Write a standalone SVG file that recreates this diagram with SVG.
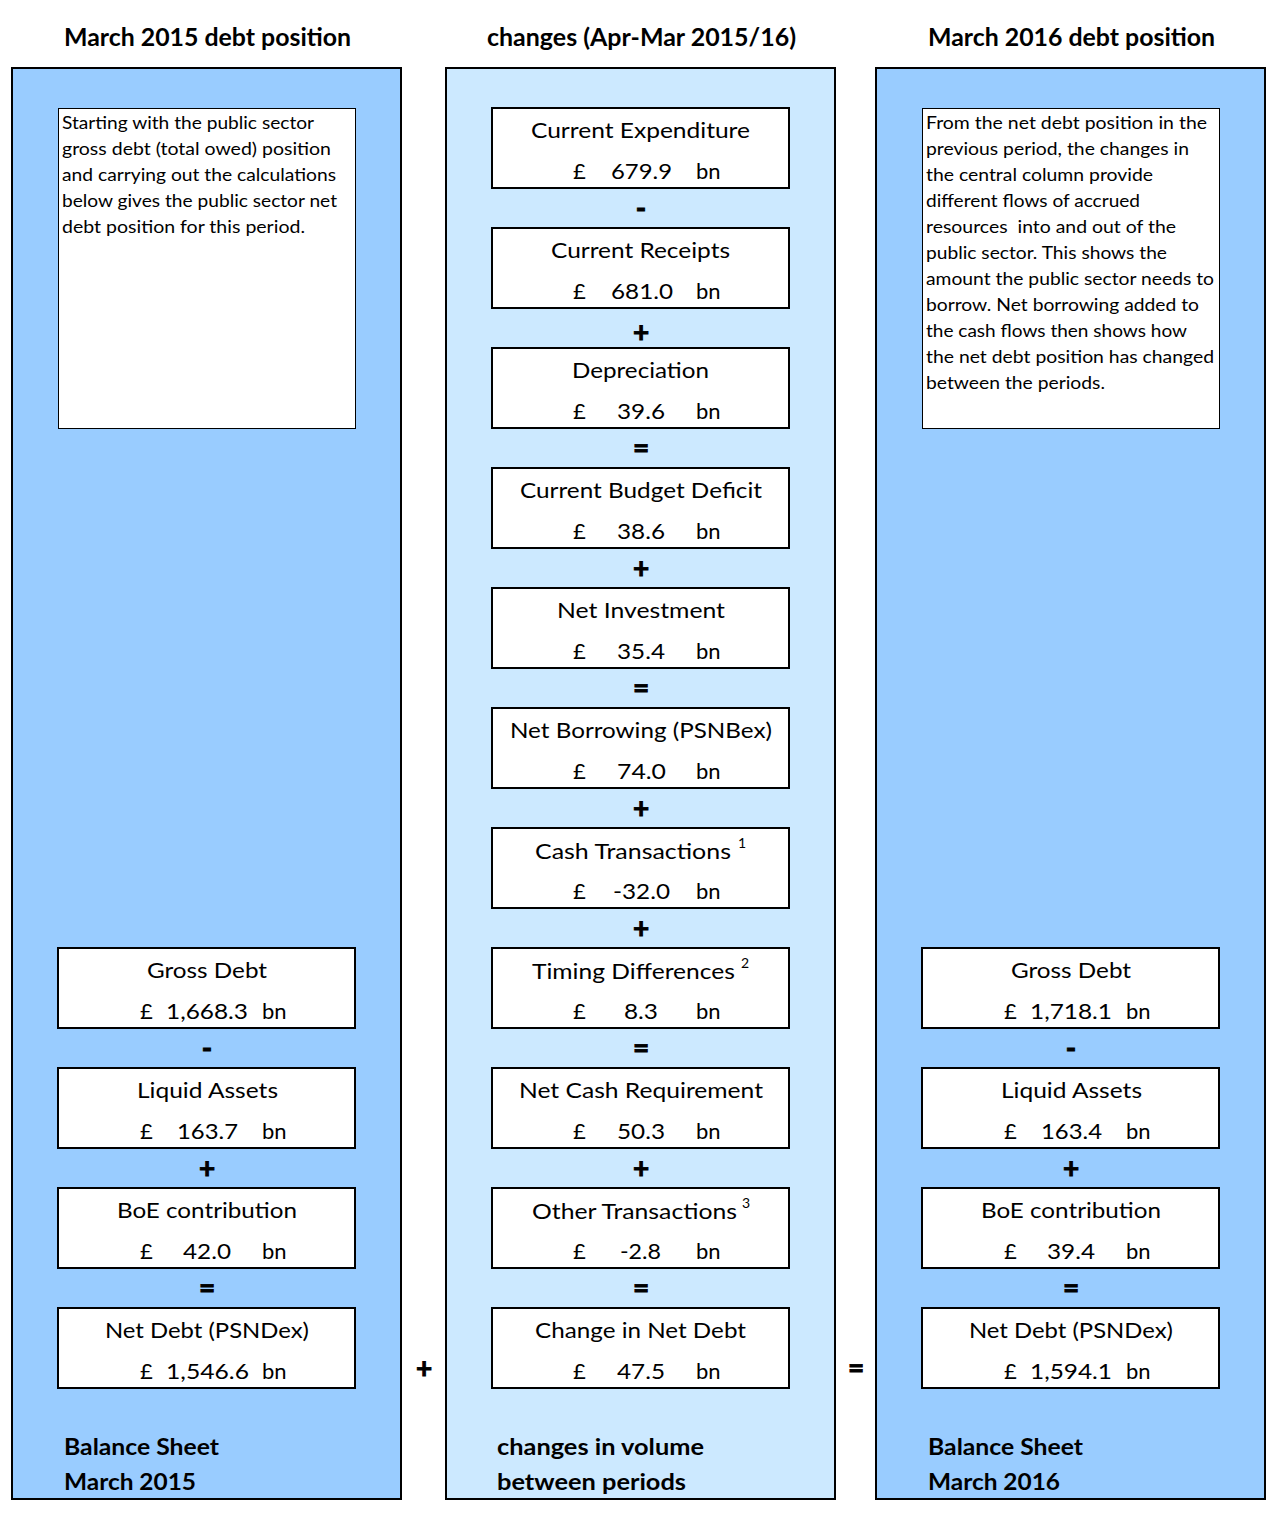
<svg xmlns="http://www.w3.org/2000/svg" width="1279" height="1535" viewBox="0 0 1279 1535">
<style>
.t{font-family:Lato,"Liberation Sans",sans-serif;font-size:22px;fill:#000}
.c{text-anchor:middle}
.h{font-weight:bold;font-size:24px}
.b{font-weight:bold;font-size:23px}
.d{font-size:18px}
.op{font-weight:bold;font-size:28px;text-anchor:middle;stroke:#000;stroke-width:0.9}
.sup{font-size:14px}
.col{stroke:#000;stroke-width:2}
.box{fill:#fff;stroke:#000;stroke-width:2}
.note{fill:#fff;stroke:#000;stroke-width:1}
</style>
<rect width="1279" height="1535" fill="#fff"/>

<g id="headers">
<text class="t h c" x="207.5" y="46" textLength="287" lengthAdjust="spacingAndGlyphs">March 2015 debt position</text>
<text class="t h c" x="641.5" y="46" textLength="309" lengthAdjust="spacingAndGlyphs">changes (Apr-Mar 2015/16)</text>
<text class="t h c" x="1071.5" y="46" textLength="287" lengthAdjust="spacingAndGlyphs">March 2016 debt position</text>
</g>

<g id="col-left">
<rect class="col" x="12" y="68" width="389" height="1431" fill="#99CCFF"/>
<text class="t b" x="64" y="1455" textLength="155" lengthAdjust="spacingAndGlyphs">Balance Sheet</text>
<text class="t b" x="64" y="1490" textLength="132" lengthAdjust="spacingAndGlyphs">March 2015</text>
</g>
<g id="col-mid">
<rect class="col" x="446" y="68" width="389" height="1431" fill="#CCE9FF"/>
<text class="t b" x="497" y="1455" textLength="207" lengthAdjust="spacingAndGlyphs">changes in volume</text>
<text class="t b" x="497" y="1490" textLength="189" lengthAdjust="spacingAndGlyphs">between periods</text>
</g>
<g id="col-right">
<rect class="col" x="876" y="68" width="389" height="1431" fill="#99CCFF"/>
<text class="t b" x="928" y="1455" textLength="155" lengthAdjust="spacingAndGlyphs">Balance Sheet</text>
<text class="t b" x="928" y="1490" textLength="132" lengthAdjust="spacingAndGlyphs">March 2016</text>
</g>

<g id="note-left">
<rect class="note" x="58.5" y="108.5" width="297" height="320"/>
<text class="t d" x="62" y="129" textLength="252" lengthAdjust="spacingAndGlyphs">Starting with the public sector</text>
<text class="t d" x="62" y="155" textLength="269" lengthAdjust="spacingAndGlyphs">gross debt (total owed) position</text>
<text class="t d" x="62" y="181" textLength="274" lengthAdjust="spacingAndGlyphs">and carrying out the calculations</text>
<text class="t d" x="62" y="207" textLength="275" lengthAdjust="spacingAndGlyphs">below gives the public sector net</text>
<text class="t d" x="62" y="233" textLength="243" lengthAdjust="spacingAndGlyphs">debt position for this period.</text>
</g>

<g id="note-right">
<rect class="note" x="922.5" y="108.5" width="297" height="320"/>
<text class="t d" x="926" y="129" textLength="281" lengthAdjust="spacingAndGlyphs">From the net debt position in the</text>
<text class="t d" x="926" y="155" textLength="263" lengthAdjust="spacingAndGlyphs">previous period, the changes in</text>
<text class="t d" x="926" y="181" textLength="227" lengthAdjust="spacingAndGlyphs">the central column provide</text>
<text class="t d" x="926" y="207" textLength="214" lengthAdjust="spacingAndGlyphs">different flows of accrued</text>
<text class="t d" x="926" y="233" textLength="250" lengthAdjust="spacingAndGlyphs" xml:space="preserve">resources  into and out of the</text>
<text class="t d" x="926" y="259" textLength="241" lengthAdjust="spacingAndGlyphs">public sector. This shows the</text>
<text class="t d" x="926" y="285" textLength="288" lengthAdjust="spacingAndGlyphs">amount the public sector needs to</text>
<text class="t d" x="926" y="311" textLength="273" lengthAdjust="spacingAndGlyphs">borrow. Net borrowing added to</text>
<text class="t d" x="926" y="337" textLength="261" lengthAdjust="spacingAndGlyphs">the cash flows then shows how</text>
<text class="t d" x="926" y="363" textLength="288" lengthAdjust="spacingAndGlyphs">the net debt position has changed</text>
<text class="t d" x="926" y="389" textLength="179" lengthAdjust="spacingAndGlyphs">between the periods.</text>
</g>

<!-- middle column nodes -->
<g id="current-expenditure">
<rect class="box" x="492" y="108" width="297" height="80"/>
<text class="t c" x="640.5" y="138" textLength="219" lengthAdjust="spacingAndGlyphs">Current Expenditure</text>
<text class="t" x="573" y="179">£</text><text class="t c" x="641.5" y="179" textLength="61" lengthAdjust="spacingAndGlyphs">679.9</text><text class="t" x="696" y="179">bn</text>
</g>
<g id="current-receipts">
<rect class="box" x="492" y="228" width="297" height="80"/>
<text class="t c" x="640.5" y="258" textLength="179" lengthAdjust="spacingAndGlyphs">Current Receipts</text>
<text class="t" x="573" y="299">£</text><text class="t c" x="642" y="299" textLength="62" lengthAdjust="spacingAndGlyphs">681.0</text><text class="t" x="696" y="299">bn</text>
</g>
<g id="depreciation">
<rect class="box" x="492" y="348" width="297" height="80"/>
<text class="t c" x="640.5" y="378" textLength="137" lengthAdjust="spacingAndGlyphs">Depreciation</text>
<text class="t" x="573" y="419">£</text><text class="t c" x="641" y="419" textLength="48" lengthAdjust="spacingAndGlyphs">39.6</text><text class="t" x="696" y="419">bn</text>
</g>
<g id="current-budget-deficit">
<rect class="box" x="492" y="468" width="297" height="80"/>
<text class="t c" x="641" y="498" textLength="242" lengthAdjust="spacingAndGlyphs">Current Budget Deficit</text>
<text class="t" x="573" y="539">£</text><text class="t c" x="641" y="539" textLength="48" lengthAdjust="spacingAndGlyphs">38.6</text><text class="t" x="696" y="539">bn</text>
</g>
<g id="net-investment">
<rect class="box" x="492" y="588" width="297" height="80"/>
<text class="t c" x="641" y="618" textLength="168" lengthAdjust="spacingAndGlyphs">Net Investment</text>
<text class="t" x="573" y="659">£</text><text class="t c" x="641" y="659" textLength="48" lengthAdjust="spacingAndGlyphs">35.4</text><text class="t" x="696" y="659">bn</text>
</g>
<g id="net-borrowing">
<rect class="box" x="492" y="708" width="297" height="80"/>
<text class="t c" x="641" y="738" textLength="262" lengthAdjust="spacingAndGlyphs">Net Borrowing (PSNBex)</text>
<text class="t" x="573" y="779">£</text><text class="t c" x="641.5" y="779" textLength="49" lengthAdjust="spacingAndGlyphs">74.0</text><text class="t" x="696" y="779">bn</text>
</g>
<g id="cash-transactions">
<rect class="box" x="492" y="828" width="297" height="80"/>
<text class="t" x="535" y="859" textLength="196" lengthAdjust="spacingAndGlyphs">Cash Transactions</text>
<text class="t sup" x="738" y="848">1</text>
<text class="t" x="573" y="899">£</text><text class="t c" x="641.5" y="899" textLength="57" lengthAdjust="spacingAndGlyphs">-32.0</text><text class="t" x="696" y="899">bn</text>
</g>
<g id="timing-differences">
<rect class="box" x="492" y="948" width="297" height="80"/>
<text class="t" x="532" y="979" textLength="203" lengthAdjust="spacingAndGlyphs">Timing Differences</text>
<text class="t sup" x="741" y="968">2</text>
<text class="t" x="573" y="1019">£</text><text class="t c" x="641" y="1019" textLength="34" lengthAdjust="spacingAndGlyphs">8.3</text><text class="t" x="696" y="1019">bn</text>
</g>
<g id="net-cash-requirement">
<rect class="box" x="492" y="1068" width="297" height="80"/>
<text class="t c" x="641" y="1098" textLength="244" lengthAdjust="spacingAndGlyphs">Net Cash Requirement</text>
<text class="t" x="573" y="1139">£</text><text class="t c" x="641" y="1139" textLength="48" lengthAdjust="spacingAndGlyphs">50.3</text><text class="t" x="696" y="1139">bn</text>
</g>
<g id="other-transactions">
<rect class="box" x="492" y="1188" width="297" height="80"/>
<text class="t" x="532" y="1219" textLength="205" lengthAdjust="spacingAndGlyphs">Other Transactions</text>
<text class="t sup" x="742" y="1208">3</text>
<text class="t" x="573" y="1259">£</text><text class="t c" x="640.5" y="1259" textLength="41" lengthAdjust="spacingAndGlyphs">-2.8</text><text class="t" x="696" y="1259">bn</text>
</g>
<g id="change-in-net-debt">
<rect class="box" x="492" y="1308" width="297" height="80"/>
<text class="t c" x="640.5" y="1338" textLength="211" lengthAdjust="spacingAndGlyphs">Change in Net Debt</text>
<text class="t" x="573" y="1379">£</text><text class="t c" x="641" y="1379" textLength="48" lengthAdjust="spacingAndGlyphs">47.5</text><text class="t" x="696" y="1379">bn</text>
</g>

<!-- left column nodes -->
<g id="gross-debt-2015">
<rect class="box" x="58" y="948" width="297" height="80"/>
<text class="t c" x="207" y="978" textLength="120" lengthAdjust="spacingAndGlyphs">Gross Debt</text>
<text class="t" x="140" y="1019">£</text><text class="t c" x="207" y="1019" textLength="82" lengthAdjust="spacingAndGlyphs">1,668.3</text><text class="t" x="262" y="1019">bn</text>
</g>
<g id="liquid-assets-2015">
<rect class="box" x="58" y="1068" width="297" height="80"/>
<text class="t c" x="207.5" y="1098" textLength="141" lengthAdjust="spacingAndGlyphs">Liquid Assets</text>
<text class="t" x="140" y="1139">£</text><text class="t c" x="207.5" y="1139" textLength="61" lengthAdjust="spacingAndGlyphs">163.7</text><text class="t" x="262" y="1139">bn</text>
</g>
<g id="boe-2015">
<rect class="box" x="58" y="1188" width="297" height="80"/>
<text class="t c" x="207" y="1218" textLength="180" lengthAdjust="spacingAndGlyphs">BoE contribution</text>
<text class="t" x="140" y="1259">£</text><text class="t c" x="207" y="1259" textLength="48" lengthAdjust="spacingAndGlyphs">42.0</text><text class="t" x="262" y="1259">bn</text>
</g>
<g id="net-debt-2015">
<rect class="box" x="58" y="1308" width="297" height="80"/>
<text class="t c" x="207" y="1338" textLength="204" lengthAdjust="spacingAndGlyphs">Net Debt (PSNDex)</text>
<text class="t" x="140" y="1379">£</text><text class="t c" x="207.5" y="1379" textLength="83" lengthAdjust="spacingAndGlyphs">1,546.6</text><text class="t" x="262" y="1379">bn</text>
</g>

<!-- right column nodes -->
<g id="gross-debt-2016">
<rect class="box" x="922" y="948" width="297" height="80"/>
<text class="t c" x="1071" y="978" textLength="120" lengthAdjust="spacingAndGlyphs">Gross Debt</text>
<text class="t" x="1004" y="1019">£</text><text class="t c" x="1071" y="1019" textLength="82" lengthAdjust="spacingAndGlyphs">1,718.1</text><text class="t" x="1126" y="1019">bn</text>
</g>
<g id="liquid-assets-2016">
<rect class="box" x="922" y="1068" width="297" height="80"/>
<text class="t c" x="1071.5" y="1098" textLength="141" lengthAdjust="spacingAndGlyphs">Liquid Assets</text>
<text class="t" x="1004" y="1139">£</text><text class="t c" x="1071.5" y="1139" textLength="61" lengthAdjust="spacingAndGlyphs">163.4</text><text class="t" x="1126" y="1139">bn</text>
</g>
<g id="boe-2016">
<rect class="box" x="922" y="1188" width="297" height="80"/>
<text class="t c" x="1071" y="1218" textLength="180" lengthAdjust="spacingAndGlyphs">BoE contribution</text>
<text class="t" x="1004" y="1259">£</text><text class="t c" x="1071" y="1259" textLength="48" lengthAdjust="spacingAndGlyphs">39.4</text><text class="t" x="1126" y="1259">bn</text>
</g>
<g id="net-debt-2016">
<rect class="box" x="922" y="1308" width="297" height="80"/>
<text class="t c" x="1071" y="1338" textLength="204" lengthAdjust="spacingAndGlyphs">Net Debt (PSNDex)</text>
<text class="t" x="1004" y="1379">£</text><text class="t c" x="1071" y="1379" textLength="82" lengthAdjust="spacingAndGlyphs">1,594.1</text><text class="t" x="1126" y="1379">bn</text>
</g>

<g id="connectors">
<text class="t op" x="641" y="218">-</text>
<text class="t op" x="641" y="342">+</text>
<text class="t op" x="641" y="458">=</text>
<text class="t op" x="641" y="578">+</text>
<text class="t op" x="641" y="698">=</text>
<text class="t op" x="641" y="818">+</text>
<text class="t op" x="641" y="938">+</text>
<text class="t op" x="641" y="1058">=</text>
<text class="t op" x="641" y="1178">+</text>
<text class="t op" x="641" y="1298">=</text>
<text class="t op" x="207" y="1058">-</text>
<text class="t op" x="207" y="1178">+</text>
<text class="t op" x="207" y="1298">=</text>
<text class="t op" x="1071" y="1058">-</text>
<text class="t op" x="1071" y="1178">+</text>
<text class="t op" x="1071" y="1298">=</text>
<text class="t op" x="424" y="1378">+</text>
<text class="t op" x="856" y="1378">=</text>
</g>
</svg>
